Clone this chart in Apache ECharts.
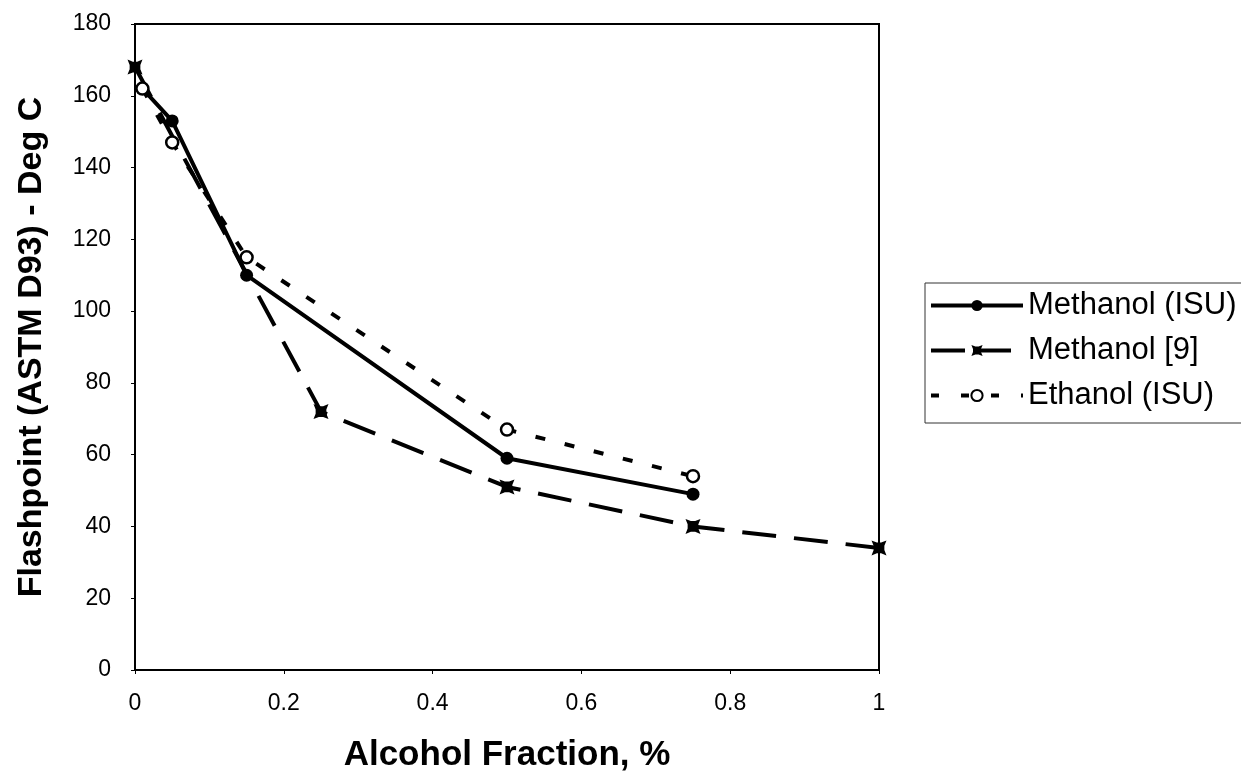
<!DOCTYPE html>
<html>
<head>
<meta charset="utf-8">
<script src="https://cdn.jsdelivr.net/npm/echarts@6/dist/echarts.min.js"></script>
<style>html,body{margin:0;padding:0;background:#fff}#c{width:1241px;height:782px}</style>
</head>
<body>
<div id="c"></div>
<script>
// Data
var methISU_x = [0.01, 0.05, 0.15, 0.5, 0.75];
var methISU_y = [162, 153, 110, 59, 49];
var meth9_x = [0, 0.25, 0.5, 0.75, 1];
var meth9_y = [168, 72, 51, 40, 34];
var eth_x = [0.01, 0.05, 0.15, 0.5, 0.75];
var eth_y = [162, 147, 115, 67, 54];
var seriesNames = ['Methanol (ISU)', 'Methanol [9]', 'Ethanol (ISU)'];
var xTitle = 'Alcohol Fraction, %';
var yTitle = 'Flashpoint (ASTM D93) - Deg C';

function pairs(xs, ys) { return xs.map(function (x, i) { return [x, ys[i]]; }); }

var starPath = 'path://M-7,-7L-2,-5L2,-5L7,-7L5,-2L5,2L7,7L2,5L-2,5L-7,7L-5,2L-5,-2Z';
var font = 'Liberation Sans, Arial, sans-serif';
var dashLong = [34, 18];
var dashShort = [10, 20];

var chart = echarts.init(document.getElementById('c'), null, {renderer: 'canvas'});
chart.setOption({
  backgroundColor: '#fff',
  animation: false,
  grid: {left: 135, right: 362, top: 24, bottom: 112, show: true, borderColor: '#000', borderWidth: 2},
  legend: {
    left: 925, top: 283, orient: 'vertical',
    itemWidth: 92, itemHeight: 14, itemGap: 14,
    padding: [7, 24, 12, 4],
    borderColor: '#333', borderWidth: 1,
    textStyle: {fontFamily: font, fontSize: 31, color: '#000'},
    data: [
      {name: seriesNames[0], lineStyle: {width: 4, type: 'solid', color: '#000'}},
      {name: seriesNames[1], lineStyle: {width: 4, type: [34, 12], color: '#000'}},
      {name: seriesNames[2], lineStyle: {width: 4, type: [8, 22], color: '#000'}}
    ]
  },
  xAxis: {
    type: 'value', min: 0, max: 1, interval: 0.2,
    name: xTitle, nameLocation: 'middle', nameGap: 68,
    nameTextStyle: {fontFamily: font, fontSize: 35, fontWeight: 'bold', color: '#000'},
    axisLine: {show: true, lineStyle: {color: '#000', width: 2}},
    axisTick: {show: true, length: 4, lineStyle: {color: '#000'}},
    axisLabel: {fontFamily: font, fontSize: 23, color: '#000', margin: 22,
      formatter: function (v) { return String(Math.round(v * 10) / 10); }},
    splitLine: {show: false}
  },
  yAxis: {
    type: 'value', min: 0, max: 180, interval: 20,
    name: yTitle, nameLocation: 'middle', nameGap: 86,
    nameTextStyle: {fontFamily: font, fontSize: 34, fontWeight: 'bold', color: '#000'},
    axisLine: {show: true, lineStyle: {color: '#000', width: 2}},
    axisTick: {show: true, length: 4, lineStyle: {color: '#000'}},
    axisLabel: {fontFamily: font, fontSize: 23, color: '#000', margin: 24},
    splitLine: {show: false}
  },
  series: [
    {
      name: seriesNames[1], type: 'line', data: pairs(meth9_x, meth9_y),
      symbol: starPath, symbolSize: 15,
      itemStyle: {color: '#000'},
      lineStyle: {color: '#000', width: 4, type: dashLong},
      z: 2
    },
    {
      name: seriesNames[0], type: 'line', data: pairs(methISU_x, methISU_y),
      symbol: 'circle', symbolSize: 13,
      itemStyle: {color: '#000'},
      lineStyle: {color: '#000', width: 4, type: 'solid'},
      z: 3
    },
    {
      name: seriesNames[2], type: 'line', data: pairs(eth_x, eth_y),
      symbol: 'circle', symbolSize: 12,
      itemStyle: {color: '#fff', borderColor: '#000', borderWidth: 2.5},
      lineStyle: {color: '#000', width: 4, type: dashShort},
      z: 4
    }
  ]
});
</script>
</body>
</html>
